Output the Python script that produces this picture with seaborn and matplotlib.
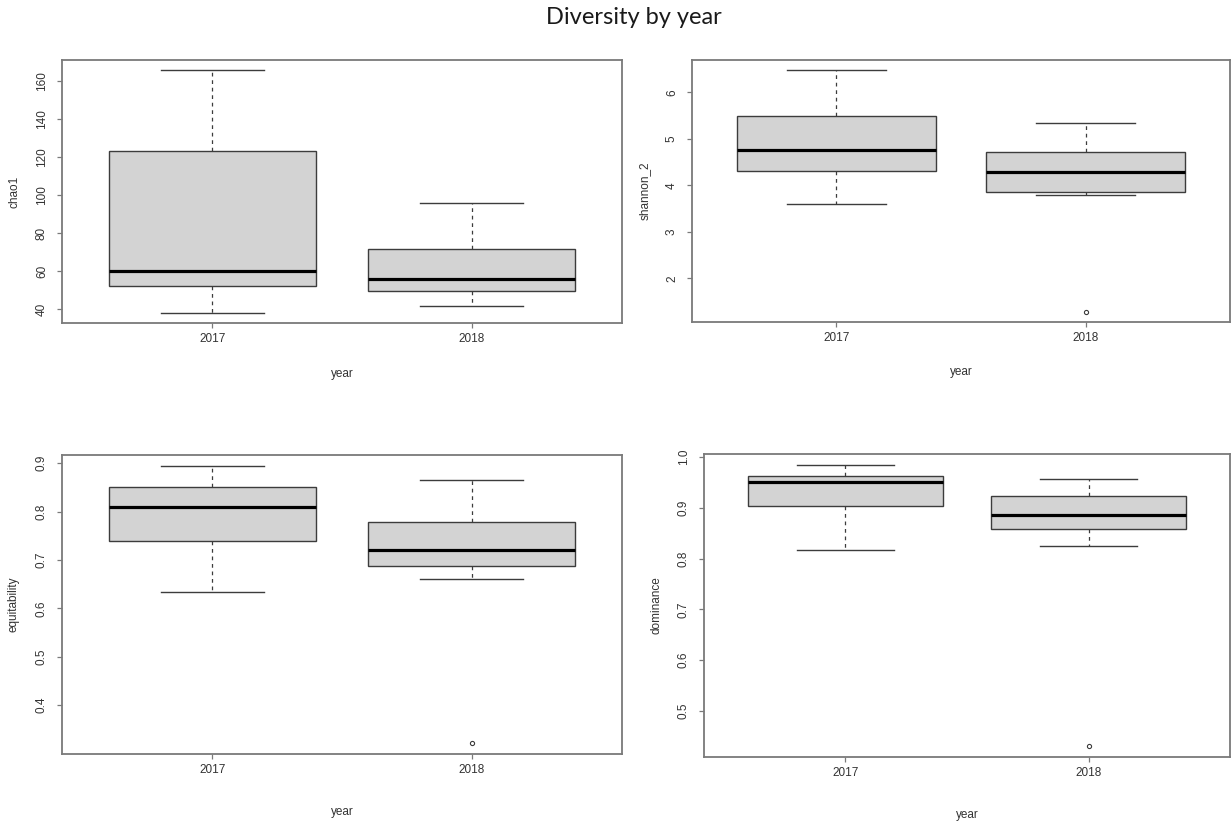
import numpy as np
import pandas as pd
import matplotlib
matplotlib.use("Agg")
import matplotlib.pyplot as plt
import seaborn as sns
from matplotlib.ticker import FormatStrFormatter

# ---------------- data ----------------
years = ["2017", "2018"]

# five-number summaries: lower whisker, Q1, median, Q3, upper whisker
chao1_2017 = [37.9, 52.0, 60.2, 123.3, 165.8]
chao1_2018 = [41.6, 49.8, 56.0, 71.4, 95.8]
shannon_2017 = [3.59, 4.31, 4.76, 5.50, 6.49]
shannon_2018 = [3.79, 3.85, 4.28, 4.71, 5.34]
equitability_2017 = [0.633, 0.739, 0.809, 0.850, 0.894]
equitability_2018 = [0.660, 0.687, 0.721, 0.779, 0.865]
dominance_2017 = [0.816, 0.903, 0.950, 0.962, 0.984]
dominance_2018 = [0.824, 0.859, 0.885, 0.923, 0.956]

# outlying points
chao1_outliers = {"2017": [], "2018": []}
shannon_outliers = {"2017": [], "2018": [1.27]}
equitability_outliers = {"2017": [], "2018": [0.322]}
dominance_outliers = {"2017": [], "2018": [0.431]}

# tick values
chao1_ticks = [40, 60, 80, 100, 120, 140, 160]
shannon_ticks = [2, 3, 4, 5, 6]
equitability_ticks = [0.4, 0.5, 0.6, 0.7, 0.8, 0.9]
dominance_ticks = [0.5, 0.6, 0.7, 0.8, 0.9, 1.0]

title = "Diversity by year"


def observations(summary, outliers):
    """Values whose linear-percentile box statistics equal the summary."""
    lo, q1, med, q3, hi = summary
    if not outliers:
        return [lo, q1, med, q3, hi]
    return list(outliers) + [lo, q1, q1, med, q3, q3, hi, hi]


def frame(s2017, s2018, outl):
    rows = []
    for yr, s in zip(years, [s2017, s2018]):
        for v in observations(s, outl[yr]):
            rows.append((yr, v))
    return pd.DataFrame(rows, columns=["year", "value"])


# (ylabel, data, ticks, format, frame box in px (x0, y0, x1, y1), xlabel offset, ylabel x px)
panels = [
    ("chao1", frame(chao1_2017, chao1_2018, chao1_outliers), chao1_ticks, "%d",
     (62, 60, 622, 323), 51, 14),
    ("shannon_2", frame(shannon_2017, shannon_2018, shannon_outliers), shannon_ticks, "%d",
     (692, 60, 1230, 322), 50, 645),
    ("equitability", frame(equitability_2017, equitability_2018, equitability_outliers),
     equitability_ticks, "%.1f", (62, 455, 622, 754), 58, 14),
    ("dominance", frame(dominance_2017, dominance_2018, dominance_outliers),
     dominance_ticks, "%.1f", (704, 454, 1230, 757), 58, 657),
]

# ---------------- styling ----------------
W, H = 1232, 822
BOX_FILL = "#D3D3D3"
EDGE = "#3c3c3c"
FRAME = "#7a7a7a"
TXT = "#333333"

plt.rcParams["font.family"] = ["Liberation Sans", "DejaVu Sans"]

fig = plt.figure(figsize=(W / 100, H / 100), dpi=100)
fig.patch.set_facecolor("white")

for ylabel, df, ticks, fmt, (x0, y0, x1, y1), xlab_off, ylab_x in panels:
    ax = fig.add_axes([x0 / W, 1 - y1 / H, (x1 - x0) / W, (y1 - y0) / H])
    sns.boxplot(
        data=df, x="year", y="value", order=years, ax=ax,
        color=BOX_FILL, saturation=1, width=0.8,
        linecolor=EDGE, linewidth=1.0, fliersize=3,
        whiskerprops=dict(linestyle=(0, (3, 3)), color=EDGE, linewidth=0.9),
        capprops=dict(color=EDGE, linewidth=1.0),
        medianprops=dict(color="black", linewidth=2.3),
        flierprops=dict(marker="o", markersize=3, markerfacecolor="none",
                        markeredgecolor=EDGE, markeredgewidth=0.8),
    )
    vmin, vmax = df["value"].min(), df["value"].max()
    r = vmax - vmin
    ax.set_ylim(vmin - 0.04 * r, vmax + 0.04 * r)
    ax.set_xlim(-0.58, 1.58)
    ax.set_yticks(ticks)
    ax.yaxis.set_major_formatter(FormatStrFormatter(fmt))
    ax.tick_params(axis="y", labelrotation=90, length=3.6, width=0.9,
                   color=FRAME, labelcolor=TXT, labelsize=8.5, pad=6.5)
    ax.tick_params(axis="x", length=3.6, width=0.9, color=FRAME,
                   labelcolor=TXT, labelsize=8.5, pad=3.5)
    for lbl in ax.get_yticklabels():
        lbl.set_va("center")
    ax.set_facecolor("white")
    ax.grid(False)
    for sp in ax.spines.values():
        sp.set_visible(True)
        sp.set_color(FRAME)
        sp.set_linewidth(1.3)

    ax.set_xlabel("year", fontsize=8.5, color=TXT)
    ax.xaxis.set_label_coords(0.5, -xlab_off / (y1 - y0))
    ax.xaxis.label.set_va("center")
    ax.set_ylabel(ylabel, fontsize=8.5, color=TXT)
    ax.yaxis.set_label_coords((ylab_x - x0) / (x1 - x0), 0.5)
    ax.yaxis.label.set_va("center")

fig.text(634 / W, 1 - 18 / H, title, ha="center", va="center",
         fontsize=17, color="#1a1a1a", family=["Lato", "DejaVu Sans"])

fig.savefig("out.png", dpi=100, facecolor="white")
